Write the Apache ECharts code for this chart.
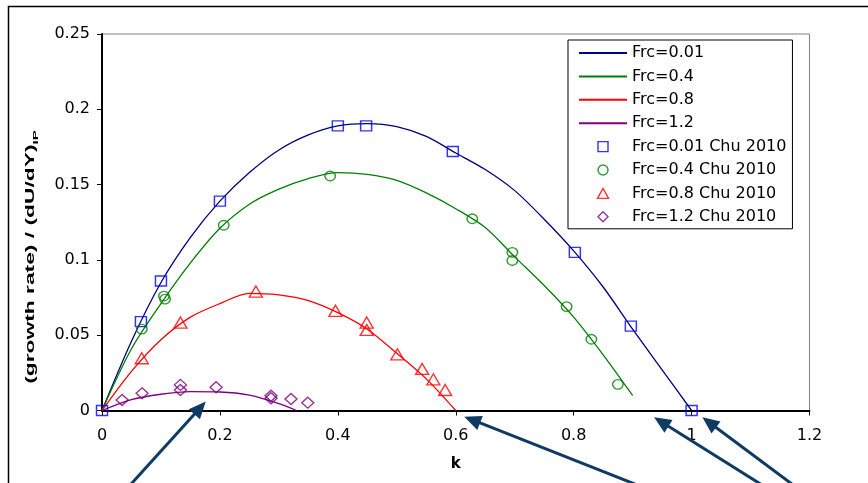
<!DOCTYPE html>
<html>
<head>
<meta charset="utf-8">
<script src="https://cdn.jsdelivr.net/npm/echarts@6/dist/echarts.min.js"></script>
<style>
  html, body { margin: 0; padding: 0; background: #fff; }
  #chart { width: 868px; height: 483px; }
</style>
</head>
<body>
<div id="chart"></div>
<script>
// Model curves: growth rate / (dU/dY)_IP against wavenumber k
const kFrc001 = [0, 0.05, 0.1, 0.15, 0.2, 0.25, 0.3, 0.35, 0.4, 0.45, 0.5, 0.55, 0.6, 0.65, 0.7, 0.75, 0.8, 0.85, 0.9, 0.95, 1.0];
const rateFrc001 = [0, 0.046, 0.085, 0.115, 0.139, 0.158, 0.173, 0.183, 0.189, 0.1905, 0.1885, 0.182, 0.171, 0.160, 0.146, 0.127, 0.106, 0.082, 0.054, 0.027, 0];

const kFrc04 = [0, 0.05, 0.1, 0.15, 0.2, 0.25, 0.3, 0.35, 0.4, 0.45, 0.5, 0.55, 0.6, 0.65, 0.7, 0.75, 0.8, 0.85, 0.9];
const rateFrc04 = [0, 0.041, 0.071, 0.098, 0.121, 0.137, 0.147, 0.154, 0.158, 0.1568, 0.1528, 0.1445, 0.134, 0.1215, 0.102, 0.083, 0.062, 0.037, 0.010];

const kFrc08 = [0, 0.05, 0.1, 0.15, 0.2, 0.25, 0.3, 0.35, 0.4, 0.45, 0.5, 0.55, 0.6];
const rateFrc08 = [0, 0.026, 0.047, 0.062, 0.071, 0.0778, 0.0768, 0.073, 0.065, 0.054, 0.038, 0.021, 0];

const kFrc12 = [0, 0.05, 0.1, 0.15, 0.2, 0.25, 0.3, 0.33];
const rateFrc12 = [0, 0.0072, 0.0108, 0.0125, 0.0123, 0.0102, 0.0045, 0];

// Chu (2010) reference points
const chuK001 = [0, 0.066, 0.1, 0.2, 0.4, 0.448, 0.595, 0.802, 0.897, 1.0];
const chuRate001 = [0, 0.059, 0.086, 0.139, 0.189, 0.189, 0.172, 0.105, 0.056, 0];

const chuK04 = [0.0675, 0.105, 0.107, 0.2065, 0.387, 0.628, 0.696, 0.696, 0.788, 0.83, 0.875];
const chuRate04 = [0.054, 0.076, 0.074, 0.123, 0.1557, 0.1273, 0.105, 0.0996, 0.069, 0.0473, 0.0174];

const chuK08 = [0.0675, 0.133, 0.261, 0.396, 0.449, 0.449, 0.501, 0.543, 0.562, 0.582];
const chuRate08 = [0.0347, 0.0584, 0.079, 0.0662, 0.0584, 0.0535, 0.0373, 0.0276, 0.0207, 0.0136];

const chuK12 = [0.0342, 0.068, 0.133, 0.133, 0.1935, 0.2867, 0.2867, 0.3206, 0.349];
const chuRate12 = [0.007, 0.0114, 0.017, 0.0136, 0.0154, 0.0098, 0.0081, 0.0076, 0.0052];

// Axis ticks
const kTicks = { min: 0, max: 1.2, step: 0.2 };
const rateTicks = { min: 0, max: 0.25, step: 0.05 };

// Annotation arrows (tip and tail, in k / rate units)
const arrowTips = [[0.176, 0.0059], [0.6144, -0.0041], [0.9364, -0.0045], [1.0183, -0.0045]];
const arrowTails = [[0.0508, -0.0482], [0.8997, -0.0482], [1.1144, -0.0482], [1.168, -0.0482]];

const pairs = (xs, ys) => xs.map((x, i) => [x, ys[i]]);
const FONT = '"DejaVu Sans", sans-serif';

function modelLine(name, xs, ys, color) {
  return {
    name, type: 'line', data: pairs(xs, ys), symbol: 'none', smooth: 0.3,
    lineStyle: { color, width: 1.3 }, itemStyle: { color }, z: 3
  };
}
function chuPoints(name, xs, ys, symbol, color, size) {
  return {
    name, type: 'scatter', data: pairs(xs, ys), symbol, symbolSize: size, clip: false,
    itemStyle: { color: 'rgba(0,0,0,0)', borderColor: color, borderWidth: 1.4 }, z: 4
  };
}

const lineNames = ['Frc=0.01', 'Frc=0.4', 'Frc=0.8', 'Frc=1.2'];
const pointNames = ['Frc=0.01 Chu 2010', 'Frc=0.4 Chu 2010', 'Frc=0.8 Chu 2010', 'Frc=1.2 Chu 2010'];
const pointSymbols = ['rect', 'circle', 'triangle', 'diamond'];
const pointColors = ['#0000ff', '#008000', '#ff0000', '#800080'];
const pointSizes = [[11, 10], [10.5, 9.5], [13, 11], [12, 11]];
// Square-proportioned legend icons so they are not stretched to the line-sample width
const legendIcons = [
  'path://M0,0H10V10H0Z',
  'path://M5,0A5,5 0 1,1 5,10A5,5 0 1,1 5,0Z',
  'path://M5.5,0L11,10H0Z',
  'path://M5,0L10,5L5,10L0,5Z'
];

const chart = echarts.init(document.getElementById('chart'), null, { renderer: 'canvas' });

const option = {
  animation: false,
  backgroundColor: '#fff',
  grid: {
    left: 102, top: 34, width: 707.5, height: 376.5,
    show: true, borderColor: '#808080', borderWidth: 1, backgroundColor: 'transparent'
  },
  xAxis: {
    type: 'value', min: kTicks.min, max: kTicks.max, interval: kTicks.step,
    name: 'k', nameLocation: 'middle', nameGap: 46,
    nameTextStyle: { fontFamily: FONT, fontWeight: 'bold', fontSize: 15, color: '#000' },
    axisLine: { lineStyle: { color: '#000', width: 2 } },
    axisTick: { show: true, inside: false, length: 5, lineStyle: { color: '#000', width: 1 } },
    axisLabel: { fontFamily: FONT, fontSize: 16, color: '#000', margin: 17 },
    splitLine: { show: false }
  },
  yAxis: {
    type: 'value', min: rateTicks.min, max: rateTicks.max, interval: rateTicks.step,
    axisLine: { show: true, lineStyle: { color: '#000', width: 2 } },
    axisTick: { show: true, inside: false, length: 5, lineStyle: { color: '#000', width: 1 } },
    axisLabel: { fontFamily: FONT, fontSize: 16, color: '#000', margin: 12 },
    splitLine: { show: false }
  },
  legend: {
    orient: 'vertical', left: 568, top: 40,
    padding: [5, 6, 4, 10], itemGap: 7.4, itemWidth: 48, itemHeight: 10,
    symbolKeepAspect: true,
    backgroundColor: '#fff', borderColor: '#000', borderWidth: 1, borderRadius: 0,
    textStyle: { fontFamily: FONT, fontSize: 16, color: '#000' },
    data: lineNames.map(name => ({
      name, itemStyle: { color: 'rgba(0,0,0,0)', borderColor: 'rgba(0,0,0,0)', opacity: 0 }
    })).concat(pointNames.map((name, i) => ({
      name,
      icon: legendIcons[i],
      itemStyle: { color: 'rgba(0,0,0,0)', borderColor: pointColors[i], borderWidth: 1.4 }
    })))
  },
  series: [
    modelLine(lineNames[0], kFrc001, rateFrc001, '#000080'),
    modelLine(lineNames[1], kFrc04, rateFrc04, '#008000'),
    modelLine(lineNames[2], kFrc08, rateFrc08, '#ff0000'),
    modelLine(lineNames[3], kFrc12, rateFrc12, '#800080'),
    chuPoints(pointNames[0], chuK001, chuRate001, pointSymbols[0], pointColors[0], pointSizes[0]),
    chuPoints(pointNames[1], chuK04, chuRate04, pointSymbols[1], pointColors[1], pointSizes[1]),
    chuPoints(pointNames[2], chuK08, chuRate08, pointSymbols[2], pointColors[2], pointSizes[2]),
    chuPoints(pointNames[3], chuK12, chuRate12, pointSymbols[3], pointColors[3], pointSizes[3])
  ]
};
chart.setOption(option);

// Decorations: outer frame, rotated y title and the annotation arrows
const graphics = [
  {
    type: 'rect', silent: true, z: -1,
    shape: { x: 8.5, y: 6.5, width: 1000, height: 1000 },
    style: { fill: 'none', stroke: '#000', lineWidth: 1.5 }
  },
  {
    type: 'text', x: 31, y: 257, rotation: Math.PI / 2, scaleX: 1.9, scaleY: 1,
    style: {
      text: '{a|(growth rate) / (dU/dY)}{s|IP}',
      align: 'center', verticalAlign: 'middle',
      rich: {
        a: { fontFamily: '"Liberation Sans", Arial, sans-serif', fontWeight: 'bold', fontSize: 12, fill: '#000', verticalAlign: 'middle' },
        s: { fontFamily: '"Liberation Sans", Arial, sans-serif', fontWeight: 'bold', fontSize: 8, fill: '#000', padding: [9, 0, 0, 0], verticalAlign: 'middle' }
      }
    }
  }
];

const ARROW = '#0e3a64';
arrowTips.forEach((tip, i) => {
  const p = chart.convertToPixel({ gridIndex: 0 }, tip);
  const q = chart.convertToPixel({ gridIndex: 0 }, arrowTails[i]);
  const dx = p[0] - q[0], dy = p[1] - q[1];
  const len = Math.hypot(dx, dy);
  const ux = dx / len, uy = dy / len;
  const headLen = 17, headHalf = 7.5;
  const bx = p[0] - ux * headLen, by = p[1] - uy * headLen;
  const tx = q[0] - ux * 30, ty = q[1] - uy * 30;
  graphics.push({
    type: 'line', silent: true, z: 10,
    shape: { x1: tx, y1: ty, x2: bx + ux * 2, y2: by + uy * 2 },
    style: { stroke: ARROW, lineWidth: 3 }
  });
  graphics.push({
    type: 'polygon', silent: true, z: 10,
    shape: { points: [[p[0], p[1]], [bx - uy * headHalf, by + ux * headHalf], [bx + uy * headHalf, by - ux * headHalf]] },
    style: { fill: ARROW }
  });
});

chart.setOption({ graphic: graphics });
</script>
</body>
</html>
